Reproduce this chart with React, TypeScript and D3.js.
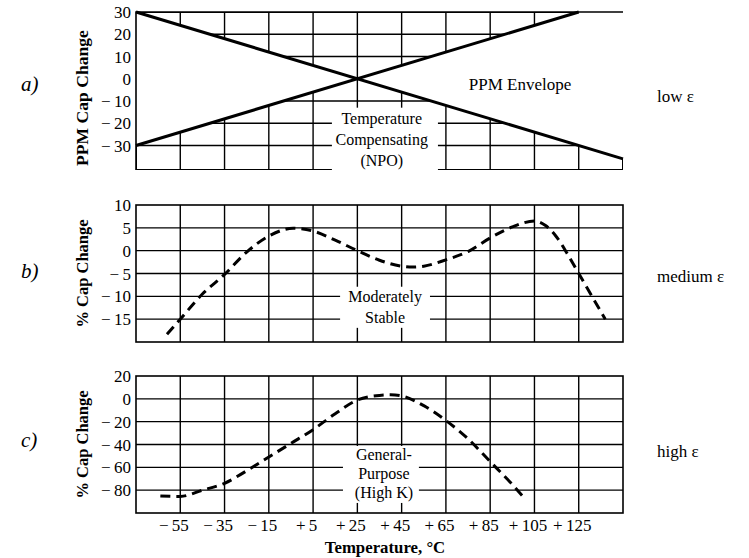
import React from "react";
import * as d3 from "d3";

// taille du dessin
const W = 749;
const H = 558;
const serif = "'Liberation Serif', 'Times New Roman', serif";

// axe des températures (commun aux trois graphes)
const tempDomain = [-75, 145];
const tempTicks = [-55, -35, -15, 5, 25, 45, 65, 85, 105, 125];

// a) enveloppe NPO : [température, ppm]
const npoRise = [
  [-75, -30],
  [125, 30],
];
const npoFall = [
  [-75, 30],
  [145, -36],
];
const aTicks = [30, 20, 10, 0, -10, -20, -30];

// b) moyennement stable
const bTemps = [-61, -55, -45, -35, -25, -15, -4, 5, 15, 25, 35, 45, 50, 55, 65, 75, 85, 95, 105, 110, 115, 120, 125, 137];
const bValues = [-18.3, -15, -9.5, -5.2, -0.3, 3.2, 4.9, 4.3, 2.3, 0, -2.1, -3.4, -3.6, -3.4, -2, -0.2, 2.8, 5.2, 6.5, 5.5, 3, -0.8, -5, -15];
const bTicks = [10, 5, 0, -5, -10, -15];

// c) usage général (High K)
const cTemps = [-64, -55, -45, -35, -25, -15, -5, 5, 15, 25, 35, 40, 45, 55, 65, 75, 85, 95, 100];
const cValues = [-85, -85.5, -80, -74, -63, -51, -39, -27, -13, -1, 3, 3.5, 2.5, -6, -19, -35, -55, -75, -86];
const cTicks = [20, 0, -20, -40, -60, -80];

const x = d3.scaleLinear().domain(tempDomain).range([136, 623]);

const fmtY = (v: number) => (v < 0 ? `\u2212\u2009${Math.abs(v)}` : `${v}`);

const YTicks = ({ y, ticks }: any) => (
  <g fontFamily={serif} fontSize={17} textAnchor="end">
    {ticks.map((v: number) => (
      <text key={v} x={131} y={y(v) + 6}>
        {fmtY(v)}
      </text>
    ))}
  </g>
);

const YTitle = ({ y, text, size = 16.5, shift = 0 }: any) => {
  const cy = (y.range()[0] + y.range()[1]) / 2 + shift;
  return (
    <text
      transform={`translate(88,${cy}) rotate(-90)`}
      textAnchor="middle"
      fontFamily={serif}
      fontWeight="bold"
      fontSize={size}
    >
      {text}
    </text>
  );
};

const Grid = ({ y, hTicks }: any) => {
  const [y0, y1] = y.range();
  return (
    <g stroke="#000" strokeWidth={1.4}>
      {hTicks.map((v: number) => (
        <line key={"h" + v} x1={x.range()[0]} x2={x.range()[1]} y1={y(v)} y2={y(v)} />
      ))}
      {tempTicks.map((t) => (
        <line key={"v" + t} x1={x(t)} x2={x(t)} y1={y0} y2={y1} />
      ))}
    </g>
  );
};

const Note = ({ y, note }: any) => {
  const [t0, t1, v0, v1] = note.box;
  return (
    <g>
      <rect x={x(t0)} y={y(v0)} width={x(t1) - x(t0)} height={y(v1) - y(v0)} fill="#fff" />
      <g fontFamily={serif} fontSize={16} textAnchor="middle">
        {note.lines.map((s: string, i: number) => (
          <text key={i} x={x(note.t)} y={y(note.v) + i * note.step}>
            {s}
          </text>
        ))}
      </g>
    </g>
  );
};

const noteA = { t: 36, v: -20.3, step: 21, lines: ["Temperature", "Compensating", "(NPO)"], box: [13.5, 61.4, -13, -41] };
const noteB = { t: 37.5, v: -11.2, step: 21, lines: ["Moderately", "Stable"], box: [17.2, 57.8, -7.9, -16.9] };
const noteC = { t: 37, v: -53.6, step: 19, lines: ["General-", "Purpose", "(High K)"], box: [18.5, 52.8, -41.3, -91.2] };

const Side = ({ letter, ly, label, sy }: any) => (
  <g fontFamily={serif}>
    <text x={21} y={ly} fontStyle="italic" fontSize={21}>
      {letter}
    </text>
    <text x={657} y={sy} fontSize={17}>
      {label}
    </text>
  </g>
);

const PanelA = () => {
  const y = d3.scaleLinear().domain([-41, 30]).range([170, 12]);
  const [xl, xr] = x.range();
  const [yb, yt] = y.range();
  // point de croisement des deux droites
  const sR = (npoRise[1][1] - npoRise[0][1]) / (npoRise[1][0] - npoRise[0][0]);
  const sF = (npoFall[1][1] - npoFall[0][1]) / (npoFall[1][0] - npoFall[0][0]);
  const tc = npoRise[0][0] + (npoFall[0][1] - npoRise[0][1]) / (sR - sF);
  const vc = npoRise[0][1] + sR * (tc - npoRise[0][0]);
  const top = [npoFall[0], [tc, vc], npoRise[1]];
  const bottom = [npoRise[0], [tc, vc], npoFall[1], [tempDomain[1], -41], [tempDomain[0], -41]];
  const poly = (pts: number[][]) => "M" + pts.map((p) => `${x(p[0])},${y(p[1])}`).join("L") + "Z";
  const line = d3.line<number[]>().x((d) => x(d[0])).y((d) => y(d[1]));
  return (
    <g>
      <defs>
        <clipPath id="npoClip">
          <path d={poly(top) + poly(bottom)} />
        </clipPath>
      </defs>
      <g clipPath="url(#npoClip)">
        <Grid y={y} hTicks={aTicks.slice(1)} />
        <rect x={xl} y={yt} width={xr - xl} height={yb - yt} fill="none" stroke="#000" strokeWidth={2} />
      </g>
      <path d={`M${xl},${yb}V${yt}H${xr}`} fill="none" stroke="#000" strokeWidth={1.6} />
      <path d={line(npoRise as any) || ""} stroke="#000" strokeWidth={3} fill="none" />
      <path d={line(npoFall as any) || ""} stroke="#000" strokeWidth={3} fill="none" />
      <Note y={y} note={noteA} />
      <text x={x(98.5)} y={90} textAnchor="middle" fontFamily={serif} fontSize={17}>
        PPM Envelope
      </text>
      <YTicks y={y} ticks={aTicks} />
      <YTitle y={y} text="PPM Cap Change" size={17.6} shift={7} />
    </g>
  );
};

const CurvePanel = ({ y, ticks, temps, values, note, title }: any) => {
  const [xl, xr] = x.range();
  const [yb, yt] = y.range();
  const line = d3
    .line<number>()
    .x((d, i) => x(temps[i]))
    .y((d) => y(d))
    .curve(d3.curveMonotoneX);
  return (
    <g>
      <Grid y={y} hTicks={ticks.slice(1)} />
      <rect x={xl} y={yt} width={xr - xl} height={yb - yt} fill="none" stroke="#000" strokeWidth={1.6} />
      <Note y={y} note={note} />
      <path d={line(values) || ""} fill="none" stroke="#000" strokeWidth={3} strokeDasharray="10,6" />
      <YTicks y={y} ticks={ticks} />
      <YTitle y={y} text={title} />
    </g>
  );
};

const XAxis = () => (
  <g fontFamily={serif} fontSize={17}>
    {tempTicks.map((t) => {
      const n = `${Math.abs(t)}`;
      const half = n.length * 4.4;
      return (
        <g key={t}>
          <text x={x(t) - half - 3} y={531} textAnchor="end">
            {t < 0 ? "\u2212" : "+"}
          </text>
          <text x={x(t)} y={531} textAnchor="middle">
            {n}
          </text>
        </g>
      );
    })}
    <text x={385} y={553} textAnchor="middle" fontWeight="bold" fontSize={16.8}>
      Temperature, °C
    </text>
  </g>
);

export default function App() {
  const yB = d3.scaleLinear().domain([-20, 10]).range([342, 205]);
  const yC = d3.scaleLinear().domain([-100, 20]).range([513, 376]);
  return (
    <svg width={W} height={H} style={{ position: "absolute", left: 0, top: 0, background: "#fff" }}>
      <rect width={W} height={H} fill="#fff" />
      <PanelA />
      <CurvePanel y={yB} ticks={bTicks} temps={bTemps} values={bValues} note={noteB} title="% Cap Change" />
      <CurvePanel y={yC} ticks={cTicks} temps={cTemps} values={cValues} note={noteC} title="% Cap Change" />
      <XAxis />
      <Side letter="a)" ly={91} label="low ε" sy={102} />
      <Side letter="b)" ly={278} label="medium ε" sy={282} />
      <Side letter="c)" ly={447} label="high ε" sy={457} />
    </svg>
  );
}
